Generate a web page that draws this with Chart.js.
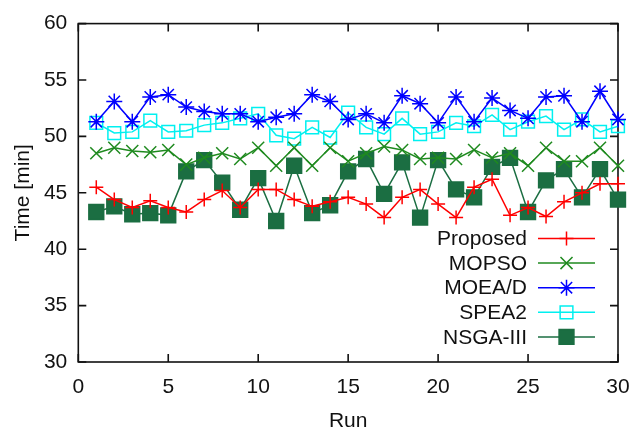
<!DOCTYPE html>
<html>
<head>
<meta charset="utf-8">
<script src="https://cdn.jsdelivr.net/npm/chart.js@4.4.1/dist/chart.umd.min.js"></script>
<style>
  html, body { margin: 0; padding: 0; background: #fff; }
  #wrap { width: 633px; height: 432px; }
</style>
</head>
<body>
<div id="wrap"><canvas id="myChart"></canvas></div>
<script>
let runs = [1, 2, 3, 4, 5, 6, 7, 8, 9, 10, 11, 12, 13, 14, 15, 16, 17, 18, 19, 20, 21, 22, 23, 24, 25, 26, 27, 28, 29, 30];
let proposed = [45.5, 44.4, 43.7, 44.3, 43.7, 43.3, 44.4, 45.2, 43.7, 45.3, 45.3, 44.4, 43.8, 44.2, 44.6, 44.0, 42.8, 44.6, 45.3, 44.0, 42.8, 45.5, 46.2, 43.0, 43.7, 42.9, 44.2, 45.0, 45.8, 45.8];
let mopso = [48.5, 49.0, 48.7, 48.6, 48.8, 47.5, 48.1, 48.5, 48.0, 49.0, 47.4, 49.0, 47.4, 49.0, 47.8, 48.5, 49.1, 48.8, 48.0, 48.1, 48.0, 48.8, 48.1, 48.5, 47.4, 49.0, 47.8, 47.8, 49.0, 47.4];
let moead = [51.3, 53.1, 51.3, 53.5, 53.7, 52.6, 52.2, 52.0, 52.0, 51.3, 51.7, 52.0, 53.7, 53.1, 51.5, 52.0, 51.2, 53.6, 52.9, 51.2, 53.5, 51.3, 53.4, 52.3, 51.6, 53.5, 53.6, 51.3, 54.0, 51.5];
let spea2 = [51.2, 50.3, 50.4, 51.4, 50.4, 50.5, 51.0, 51.2, 51.6, 52.0, 50.1, 49.8, 50.8, 49.9, 52.1, 50.8, 50.2, 51.6, 50.2, 50.4, 51.2, 50.9, 51.9, 50.6, 51.3, 51.8, 50.6, 51.5, 50.4, 50.9];
let nsga3 = [43.3, 43.8, 43.1, 43.2, 43.0, 46.9, 47.9, 45.9, 43.5, 46.3, 42.5, 47.4, 43.2, 43.9, 46.9, 48.0, 44.9, 47.7, 42.8, 47.9, 45.3, 44.6, 47.3, 48.1, 43.3, 46.1, 47.1, 44.6, 47.1, 44.4];
let seriesNames = ['Proposed', 'MOPSO', 'MOEA/D', 'SPEA2', 'NSGA-III'];
let xTicks = [0, 5, 10, 15, 20, 25, 30];
let yTicks = [30, 35, 40, 45, 50, 55, 60];

let FONT = "'Liberation Sans', Arial, sans-serif";
let FS = 21;

function pts(values) {
    return values.map((v, i) => ({ x: runs[i], y: v }));
}

function series(label, values, color, style, radius, fill) {
    return {
        label: label,
        data: pts(values),
        borderColor: color,
        backgroundColor: fill,
        pointBorderColor: color,
        pointBackgroundColor: fill,
        pointStyle: style,
        pointRadius: radius,
        pointHoverRadius: radius,
        pointBorderWidth: 1.5,
        borderWidth: 1.5,
        tension: 0,
        clip: false
    };
}

// gnuplot-like frame with inward ticks on all four sides
let framePlugin = {
    id: 'frame',
    beforeDatasetsDraw(chart) {
        let ctx = chart.ctx;
        let a = chart.chartArea;
        let xs = chart.scales.x, ys = chart.scales.y;
        let len = 8;
        ctx.save();
        ctx.strokeStyle = '#111';
        ctx.lineWidth = 1.6;
        ctx.strokeRect(a.left, a.top, a.right - a.left, a.bottom - a.top);
        ctx.beginPath();
        xTicks.forEach(t => {
            let px = xs.getPixelForValue(t);
            ctx.moveTo(px, a.bottom); ctx.lineTo(px, a.bottom - len);
            ctx.moveTo(px, a.top); ctx.lineTo(px, a.top + len);
        });
        yTicks.forEach(t => {
            let py = ys.getPixelForValue(t);
            ctx.moveTo(a.left, py); ctx.lineTo(a.left + len, py);
            ctx.moveTo(a.right, py); ctx.lineTo(a.right - len, py);
        });
        ctx.stroke();
        ctx.restore();
    }
};

// legend inside the plot: text on the left, line sample with marker on the right
let keyPlugin = {
    id: 'key',
    afterDraw(chart) {
        let ctx = chart.ctx;
        let a = chart.chartArea;
        let textRight = a.right - 91;
        let lineL = a.right - 80, lineR = a.right - 23;
        let y0 = a.bottom - 123.5, step = 24.6;
        ctx.save();
        ctx.font = FS + 'px ' + FONT;
        ctx.textAlign = 'right';
        ctx.textBaseline = 'middle';
        chart.data.datasets.forEach((ds, i) => {
            let y = y0 + i * step;
            ctx.fillStyle = '#111';
            ctx.fillText(ds.label, textRight, y + 1);
            ctx.strokeStyle = ds.borderColor;
            ctx.lineWidth = ds.borderWidth;
            ctx.beginPath();
            ctx.moveTo(lineL, y); ctx.lineTo(lineR, y);
            ctx.stroke();
            ctx.fillStyle = ds.pointBackgroundColor;
            ctx.lineWidth = ds.pointBorderWidth;
            Chart.helpers.drawPoint(ctx, {
                pointStyle: ds.pointStyle,
                radius: ds.pointRadius,
                rotation: 0,
                borderWidth: ds.pointBorderWidth
            }, (lineL + lineR) / 2, y);
        });
        ctx.restore();
    }
};

let myChart = document.getElementById('myChart').getContext('2d');
let chart = new Chart(myChart, {
    type: 'line',
    data: {
        datasets: [
            series(seriesNames[0], proposed, '#ff0000', 'cross', 7, '#ff0000'),
            series(seriesNames[1], mopso, '#1f8a1f', 'crossRot', 8.5, '#1f8a1f'),
            series(seriesNames[2], moead, '#0000ff', 'star', 8, '#0000ff'),
            series(seriesNames[3], spea2, '#00f0f0', 'rect', 9, 'rgba(0,0,0,0)'),
            series(seriesNames[4], nsga3, '#1b6e42', 'rect', 10.5, '#1b6e42')
        ]
    },
    options: {
        responsive: true,
        maintainAspectRatio: false,
        animation: false,
        events: [],
        layout: {
            padding: { top: 9, right: 15, left: 9, bottom: 0 }
        },
        plugins: {
            legend: { display: false },
            tooltip: { enabled: false }
        },
        scales: {
            x: {
                type: 'linear',
                min: 0,
                max: 30,
                afterBuildTicks: (axis) => { axis.ticks = xTicks.map(v => ({ value: v })); },
                afterFit: (axis) => { axis.height = 70; axis.paddingRight = 0; },
                grid: { display: false, drawTicks: false },
                border: { display: false },
                ticks: { color: '#111', padding: 12.5, font: { family: FONT, size: FS }, maxRotation: 0 },
                title: { display: true, text: 'Run', color: '#111', padding: { top: 0, bottom: 0 }, font: { family: FONT, size: FS, lineHeight: 1.0 } }
            },
            y: {
                min: 30,
                max: 60,
                afterBuildTicks: (axis) => { axis.ticks = yTicks.map(v => ({ value: v })); },
                afterFit: (axis) => { axis.width = 69.3; },
                grid: { display: false, drawTicks: false },
                border: { display: false },
                ticks: { color: '#111', padding: 11, font: { family: FONT, size: FS } },
                title: { display: true, text: 'Time [min]', color: '#111', padding: { top: 1.5, bottom: 0 }, font: { family: FONT, size: FS } }
            }
        }
    },
    plugins: [framePlugin, keyPlugin]
});
</script>
</body>
</html>
